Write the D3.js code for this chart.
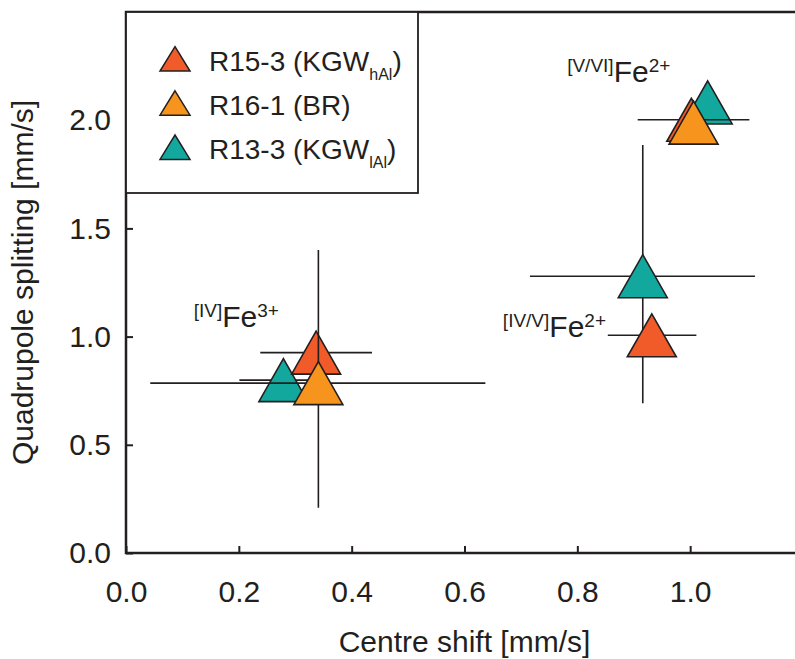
<!DOCTYPE html>
<html>
<head>
<meta charset="utf-8">
<script src="https://cdn.jsdelivr.net/npm/d3@7"></script>
<style>
  html, body { margin: 0; padding: 0; background: #fff; }
  svg { display: block; font-family: "Liberation Sans", Arial, Helvetica, sans-serif; }
</style>
</head>
<body>
<svg id="chart" width="795" height="659"></svg>
<script>
// ---- data ----
const seriesNames = ["R15-3 (KGW", "R16-1 (BR)", "R13-3 (KGW"];
const seriesSubs  = ["hAl", "", "lAl"];
const seriesColors = ["#f15a29", "#f7941d", "#13a89e"];
// per series: centre shift, quadrupole splitting, error bar extents
const r15_cs  = [0.337, 0.932, 1.002];
const r15_qs  = [0.926, 1.006, 2.002];
const r15_csLo = [0.238, 0.854, 0.907];
const r15_csHi = [0.436, 1.011, 1.105];
const r15_qsLo = [0.926, 1.006, 2.002];
const r15_qsHi = [0.926, 1.006, 2.002];

const r16_cs  = [0.341, 1.006];
const r16_qs  = [0.785, 1.989];
const r16_csLo = [0.043, 1.006];
const r16_csHi = [0.637, 1.006];
const r16_qsLo = [0.209, 1.989];
const r16_qsHi = [1.400, 1.989];

const r13_cs  = [0.279, 0.916, 1.031];
const r13_qs  = [0.799, 1.279, 2.082];
const r13_csLo = [0.201, 0.716, 1.031];
const r13_csHi = [0.357, 1.115, 1.031];
const r13_qsLo = [0.799, 0.692, 2.082];
const r13_qsHi = [0.799, 1.885, 2.082];

const xTicks = [0.0, 0.2, 0.4, 0.6, 0.8, 1.0];
const yTicks = [0.0, 0.5, 1.0, 1.5, 2.0];
const xTitle = "Centre shift [mm/s]";
const yTitle = "Quadrupole splitting [mm/s]";
const annotations = [
  {pre: "[IV]", main: "Fe", sup: "3+", cs: 0.120, qs: 1.044},
  {pre: "[V/VI]", main: "Fe", sup: "2+", cs: 0.782, qs: 2.177},
  {pre: "[IV/V]", main: "Fe", sup: "2+", cs: 0.668, qs: 0.999}
];

// ---- layout ----
const ink = "#231f20";
const svg = d3.select("#chart");
const L = 126, T = 12, R = 803, B = 553;
const x = d3.scaleLinear().domain([0, 1.2]).range([L, R]);
const y = d3.scaleLinear().domain([0, 2.5]).range([B, T]);

function build(cs, qs, csLo, csHi, qsLo, qsHi) {
  return cs.map((d, i) => ({cs: d, qs: qs[i], csLo: csLo[i], csHi: csHi[i], qsLo: qsLo[i], qsHi: qsHi[i]}));
}
const series = [
  {idx: 2, pts: build(r13_cs, r13_qs, r13_csLo, r13_csHi, r13_qsLo, r13_qsHi)},
  {idx: 0, pts: build(r15_cs, r15_qs, r15_csLo, r15_csHi, r15_qsLo, r15_qsHi)},
  {idx: 1, pts: build(r16_cs, r16_qs, r16_csLo, r16_csHi, r16_qsLo, r16_qsHi)}
];

function tri(cx, cy, hw, h) {
  return `M${cx},${cy - h/2}L${cx + hw},${cy + h/2}L${cx - hw},${cy + h/2}Z`;
}

// axes
const fs = 30;
const gx = svg.append("g").attr("transform", `translate(0,${B})`)
  .call(d3.axisBottom(x).tickValues(xTicks).tickFormat(d3.format(".1f")).tickSize(-7).tickSizeOuter(0).tickPadding(27.5));
const gy = svg.append("g").attr("transform", `translate(${L},0)`)
  .call(d3.axisLeft(y).tickValues(yTicks).tickFormat(d3.format(".1f")).tickSize(-7).tickSizeOuter(0).tickPadding(15));
const gr = svg.append("g").attr("transform", `translate(${R},0)`)
  .call(d3.axisRight(y).tickValues(yTicks.slice(1)).tickFormat("").tickSize(-7).tickSizeOuter(0));
[gx, gy, gr].forEach(g => {
  g.selectAll("path.domain").remove();
  g.selectAll("line").attr("stroke", ink).attr("stroke-width", 2);
  g.selectAll("text").attr("fill", ink).style("font-size", fs + "px").style("font-family", "'Liberation Sans', Arial, sans-serif");
});
// frame
svg.append("rect").attr("x", L).attr("y", T).attr("width", R - L).attr("height", B - T)
  .attr("fill", "none").attr("stroke", ink).attr("stroke-width", 2.5);

// axis titles
svg.append("text").attr("x", (L + R) / 2).attr("y", 652).attr("text-anchor", "middle")
  .attr("fill", ink).style("font-size", fs + "px").text(xTitle);
svg.append("text").attr("transform", `translate(33,${(T + B) / 2}) rotate(-90)`).attr("text-anchor", "middle")
  .attr("fill", ink).style("font-size", fs + "px").text(yTitle);

// data
series.forEach(s => {
  const g = svg.append("g");
  const col = seriesColors[s.idx];
  s.pts.forEach(p => {
    if (p.csHi > p.csLo) g.append("line").attr("x1", x(p.csLo)).attr("x2", x(p.csHi)).attr("y1", y(p.qs)).attr("y2", y(p.qs))
      .attr("stroke", ink).attr("stroke-width", 1.6);
    if (p.qsHi > p.qsLo) g.append("line").attr("x1", x(p.cs)).attr("x2", x(p.cs)).attr("y1", y(p.qsLo)).attr("y2", y(p.qsHi))
      .attr("stroke", ink).attr("stroke-width", 1.6);
    g.append("path").attr("d", tri(x(p.cs), y(p.qs), 24.5, 43))
      .attr("fill", col).attr("stroke", ink).attr("stroke-width", 1.6).attr("stroke-linejoin", "miter");
  });
});

// annotations
annotations.forEach(a => {
  const t = svg.append("text").attr("x", x(a.cs)).attr("y", y(a.qs)).attr("fill", ink);
  t.append("tspan").style("font-size", "19px").attr("dy", -10).text(a.pre);
  t.append("tspan").style("font-size", "30px").attr("dy", 10).text(a.main);
  t.append("tspan").style("font-size", "19px").attr("dy", -10).text(a.sup);
});

// legend
const lg = svg.append("g");
lg.append("rect").attr("x", L).attr("y", T).attr("width", 418 - L).attr("height", 193 - T)
  .attr("fill", "#fff").attr("stroke", ink).attr("stroke-width", 1.8);
[0, 1, 2].forEach(i => {
  const base = 71 + i * 44.2;
  lg.append("path").attr("d", tri(175, base - 12.2, 15, 24.4))
    .attr("fill", seriesColors[i]).attr("stroke", ink).attr("stroke-width", 1.5);
  const t = lg.append("text").attr("x", 209).attr("y", base).attr("fill", ink).style("font-size", "28px");
  t.append("tspan").text(seriesNames[i]);
  if (seriesSubs[i]) {
    t.append("tspan").style("font-size", "16px").attr("dy", 9).text(seriesSubs[i]);
    t.append("tspan").attr("dy", -9).text(")");
  }
});
</script>
</body>
</html>
